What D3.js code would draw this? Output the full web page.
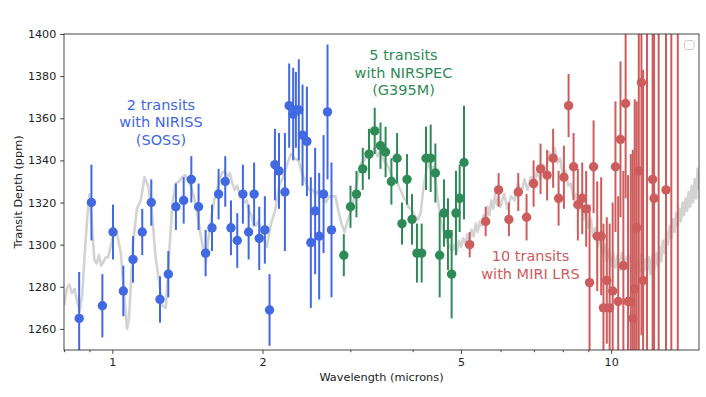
<!DOCTYPE html>
<html>
<head>
<meta charset="utf-8">
<script src="https://cdn.jsdelivr.net/npm/d3@7"></script>
<style>
  body { margin: 0; background: #fff; }
  svg { display: block; }
  text { font-family: "DejaVu Sans", sans-serif; }
</style>
</head>
<body>
<div id="chart"></div>
<script>
// model spectrum (grey)
const modelWave = [
  0.80, 0.81, 0.82, 0.83, 0.84, 0.85, 0.86, 0.87, 0.88, 0.89, 0.90, 0.91, 0.92, 0.93, 0.94, 0.95, 0.96, 0.97, 0.98, 0.99, 1.00,
  1.02, 1.04, 1.06, 1.07, 1.08, 1.10, 1.12, 1.14, 1.16, 1.18, 1.20, 1.22, 1.24, 1.26, 1.28, 1.30, 1.32, 1.34, 1.36, 1.38,
  1.40, 1.42, 1.44, 1.46, 1.48, 1.50, 1.52, 1.54, 1.56, 1.58, 1.60, 1.62, 1.64, 1.66, 1.68, 1.70, 1.72, 1.74, 1.76, 1.78,
  1.80, 1.82, 1.84, 1.86, 1.88, 1.90, 1.92, 1.94, 1.96, 1.98, 2.00,
  2.04, 2.08, 2.12, 2.16, 2.20, 2.24, 2.28, 2.32, 2.36, 2.40, 2.44, 2.48, 2.52, 2.56, 2.60, 2.64, 2.68, 2.72, 2.76, 2.80,
  2.84, 2.88, 2.92, 2.96, 3.00, 3.04, 3.08, 3.12, 3.16, 3.20, 3.24, 3.28, 3.32, 3.36, 3.40, 3.44, 3.48, 3.52, 3.56, 3.60,
  3.64, 3.68, 3.72, 3.76, 3.80, 3.84, 3.88, 3.92, 3.96, 4.00,
  4.05, 4.10, 4.15, 4.20, 4.25, 4.30, 4.35, 4.40, 4.45, 4.50, 4.55, 4.60, 4.65, 4.70, 4.75, 4.80, 4.85, 4.90, 4.95, 5.00,
  5.05, 5.10, 5.15, 5.20, 5.25, 5.30, 5.35, 5.40, 5.45, 5.50, 5.55, 5.60, 5.65, 5.70, 5.75, 5.80, 5.85, 5.90, 5.95, 6.00,
  6.1, 6.2, 6.3, 6.4, 6.5, 6.6, 6.7, 6.8, 6.9, 7.0, 7.1, 7.2, 7.3, 7.4, 7.5, 7.6, 7.7, 7.8, 7.9, 8.0,
  8.1, 8.2, 8.3, 8.4, 8.5, 8.6, 8.7, 8.8, 8.9, 9.0, 9.1, 9.2, 9.3, 9.4, 9.5, 9.6, 9.7, 9.8, 9.9, 10.0,
  10.1, 10.2, 10.3, 10.4, 10.5, 10.6, 10.7, 10.8, 10.9, 11.0, 11.1, 11.2, 11.3, 11.4, 11.5, 11.6, 11.7, 11.8, 11.9, 12.0,
  12.1, 12.2, 12.3, 12.4, 12.5, 12.6, 12.7, 12.8, 12.9, 13.0, 13.1, 13.2, 13.3, 13.4, 13.5, 13.6, 13.7, 13.8, 13.9, 14.0,
  14.1, 14.2, 14.3, 14.4, 14.5, 14.6, 14.7, 14.8, 14.9, 15.0
];
const modelDepth = [
  1271, 1279, 1281, 1277, 1279, 1273, 1269, 1276, 1295, 1312, 1324, 1310, 1293, 1291, 1295, 1290, 1292, 1294, 1294, 1298, 1303,
  1306, 1296, 1272, 1260, 1265, 1300, 1317, 1321, 1332, 1328, 1316, 1295, 1283, 1271, 1270, 1296, 1320, 1329, 1330, 1332,
  1333, 1330, 1327, 1322, 1315, 1306, 1298, 1292, 1304, 1313, 1321, 1326, 1331, 1334, 1335, 1332, 1334, 1329, 1326, 1328,
  1324, 1324, 1320, 1321, 1316, 1314, 1309, 1309, 1311, 1308, 1304,
  1299, 1310, 1316, 1328, 1332, 1338, 1343, 1341, 1340, 1334, 1330, 1326, 1326, 1324, 1326, 1323, 1320, 1323, 1323, 1323,
  1316, 1310, 1306, 1311, 1315, 1320, 1328, 1335, 1339, 1340, 1344, 1341, 1344, 1346, 1342, 1344, 1342, 1339, 1338, 1335,
  1332, 1330, 1330, 1327, 1325, 1322, 1321, 1318, 1317, 1316,
  1313, 1312, 1315, 1326, 1334, 1339, 1336, 1337, 1330, 1320, 1313, 1307, 1304, 1301, 1299, 1297, 1300, 1296, 1302, 1299,
  1303, 1300, 1305, 1302, 1307, 1304, 1310, 1306, 1311, 1309, 1314, 1311, 1318, 1314, 1321, 1317, 1324, 1319, 1322, 1318,
  1324, 1317, 1323, 1321, 1329, 1324, 1331, 1326, 1332, 1328, 1335, 1331, 1338, 1335, 1344, 1341, 1346, 1339, 1341, 1333,
  1335, 1328, 1329, 1322, 1324, 1316, 1320, 1312, 1316, 1308, 1312, 1304, 1308, 1299, 1304, 1295, 1300, 1292, 1298, 1290,
  1296, 1289, 1295, 1288, 1296, 1289, 1294, 1287, 1295, 1288, 1294, 1286, 1293, 1287, 1295, 1286, 1293, 1287, 1294, 1286,
  1295, 1288, 1296, 1290, 1299, 1292, 1302, 1296, 1306, 1300, 1309, 1303, 1312, 1306, 1315, 1309, 1317, 1311, 1320, 1314,
  1322, 1316, 1325, 1318, 1328, 1320, 1331, 1322, 1336, 1326
];

// NIRISS SOSS
const nirissWave = [0.858, 0.908, 0.955, 1.003, 1.052, 1.100, 1.148, 1.197, 1.246, 1.295, 1.341, 1.390, 1.440, 1.489,
  1.538, 1.584, 1.633, 1.684, 1.729, 1.780, 1.827, 1.876, 1.924, 1.970, 2.022, 2.066, 2.118, 2.158, 2.218, 2.262,
  2.304, 2.333, 2.365, 2.406, 2.455, 2.500, 2.550, 2.598, 2.651, 2.700, 2.750];
const nirissDepth = [1265, 1320, 1271, 1306, 1278, 1293, 1306, 1320, 1274, 1286, 1318, 1321, 1331, 1318,
  1296, 1308, 1324, 1330, 1308, 1302, 1324, 1306, 1324, 1303, 1307, 1269, 1338, 1335, 1325, 1366,
  1362, 1364, 1364, 1352, 1349, 1301, 1316, 1304, 1324, 1363, 1307];
const nirissErr = [22, 18, 15, 13, 12, 11, 11, 11, 11, 11, 11, 11, 11, 11,
  11, 11, 12, 12, 13, 13, 14, 13, 15, 15, 16, 17, 17, 18, 28, 20,
  22, 18, 24, 24, 26, 31, 30, 30, 28, 32, 32];

// NIRSpec G395M
const nirspecWave = [2.911, 3.002, 3.086, 3.177, 3.270, 3.357, 3.448, 3.530, 3.626, 3.722, 3.808, 3.897, 3.988,
  4.080, 4.170, 4.254, 4.347, 4.442, 4.531, 4.622, 4.708, 4.788, 4.885, 4.969, 5.070];
const nirspecDepth = [1295, 1318, 1324, 1336, 1343, 1354, 1347, 1344, 1330, 1341, 1310, 1331, 1312,
  1296, 1296, 1341, 1341, 1334, 1295, 1315, 1305, 1286, 1315, 1322, 1339];
const nirspecErr = [10, 10, 11, 10, 12, 11, 11, 12, 11, 12, 10, 12, 12,
  14, 14, 15, 16, 14, 20, 16, 17, 21, 20, 16, 27];

// MIRI LRS
const miriWave = [5.204, 5.603, 5.948, 6.237, 6.513, 6.767, 6.990, 7.218, 7.440, 7.650, 7.845, 8.040, 8.216, 8.407,
  8.575, 8.750, 8.910, 9.050, 9.220, 9.376, 9.550, 9.650, 9.800, 9.930, 10.07, 10.20, 10.33, 10.44, 10.58, 10.69,
  10.81, 10.95, 11.05, 11.15, 11.25, 11.36, 11.50, 11.59, 11.80, 12.11, 12.19, 12.45, 12.88, 13.20, 13.60];
const miriDepth = [1300, 1311, 1326, 1312, 1325, 1313, 1329, 1336, 1333, 1341, 1322, 1332, 1366, 1337,
  1319, 1322, 1317, 1282, 1337, 1304, 1304, 1270, 1283, 1270, 1278, 1337, 1273, 1350, 1290, 1367,
  1273, 1273, 1265, 1279, 1308, 1335, 1377, 1283, 1430, 1331, 1322, 1220, 1326, 1450, 1200];
const miriErr = [6, 7, 8, 8, 9, 11, 11, 12, 12, 14, 13, 15, 15, 16,
  17, 17, 18, 37, 22, 26, 28, 40, 30, 40, 42, 31, 50, 37, 45, 45,
  60, 70, 80, 90, 60, 110, 120, 100, 190, 150, 120, 190, 200, 260, 260];

const xTicks = [1, 2, 5, 10];
const xMinorTicks = [0.8, 0.9, 3, 4, 6, 7, 8, 9];
const yTicks = [1260, 1280, 1300, 1320, 1340, 1360, 1380, 1400];

(function transit_spectrum() {

  const width = 706, height = 397;
  const left = 64, right = 699, top = 34, bottom = 350;

  const x = d3.scaleLog().domain([0.8, 15]).range([left, right]);
  const y = d3.scaleLinear().domain([1250, 1400]).range([bottom, top]);

  const svg = d3.select("#chart")
    .append("svg")
    .attr("width", width)
    .attr("height", height)
    .style("background", "#fff");

  svg.append("clipPath")
    .attr("id", "plot-clip")
    .append("rect")
    .attr("x", left).attr("y", top)
    .attr("width", right - left).attr("height", bottom - top);

  const plot = svg.append("g").attr("clip-path", "url(#plot-clip)");

  // model
  const line = d3.line()
    .x(i => x(modelWave[i]))
    .y(i => y(modelDepth[i]));

  plot.append("path")
    .datum(d3.range(modelWave.length))
    .attr("d", line)
    .attr("fill", "none")
    .attr("stroke", "#d3d3d3")
    .attr("stroke-width", 2.6)
    .attr("stroke-linejoin", "round");

  function drawSeries(wave, depth, err, color) {
    const g = plot.append("g");
    const idx = d3.range(wave.length);
    g.selectAll("line")
      .data(idx)
      .join("line")
      .attr("x1", i => x(wave[i]))
      .attr("x2", i => x(wave[i]))
      .attr("y1", i => y(depth[i] - err[i]))
      .attr("y2", i => y(depth[i] + err[i]))
      .attr("stroke", color)
      .attr("stroke-width", 2);
    g.selectAll("circle")
      .data(idx)
      .join("circle")
      .attr("cx", i => x(wave[i]))
      .attr("cy", i => y(depth[i]))
      .attr("r", 4.7)
      .attr("fill", color);
  }

  drawSeries(nirissWave, nirissDepth, nirissErr, "#4169e1");
  drawSeries(nirspecWave, nirspecDepth, nirspecErr, "#2e8b57");
  drawSeries(miriWave, miriDepth, miriErr, "#cd5c5c");

  // axes
  svg.append("g")
    .attr("transform", `translate(0,${bottom})`)
    .call(d3.axisBottom(x).tickValues(xTicks).tickFormat(d3.format("d"))
      .tickSize(3.9).tickPadding(3.9).tickSizeOuter(0));
  svg.append("g")
    .attr("transform", `translate(0,${bottom})`)
    .call(d3.axisBottom(x).tickValues(xMinorTicks).tickFormat("")
      .tickSize(2.2).tickSizeOuter(0));

  svg.append("g")
    .attr("transform", `translate(${left},0)`)
    .call(d3.axisLeft(y).tickValues(yTicks).tickFormat(d3.format("d"))
      .tickSize(3.9).tickPadding(3.9).tickSizeOuter(0));

  svg.selectAll(".domain").remove();
  svg.selectAll(".tick line").attr("stroke", "#333").attr("stroke-width", 0.9);
  svg.selectAll(".tick text")
    .attr("font-family", "DejaVu Sans")
    .attr("font-size", "11.1px")
    .attr("fill", "#222");

  // frame
  svg.append("rect")
    .attr("x", left).attr("y", top)
    .attr("width", right - left).attr("height", bottom - top)
    .attr("fill", "none")
    .attr("stroke", "#333")
    .attr("stroke-width", 0.9);

  svg.append("text")
    .attr("x", (left + right) / 2)
    .attr("y", 381)
    .attr("text-anchor", "middle")
    .attr("font-size", "11.3px")
    .attr("fill", "#222")
    .text("Wavelength (microns)");

  svg.append("text")
    .attr("transform", `translate(22,${(top + bottom) / 2}) rotate(-90)`)
    .attr("text-anchor", "middle")
    .attr("font-size", "11.3px")
    .attr("fill", "#222")
    .text("Transit Depth (ppm)");

  // instrument labels
  const labels = [
    { x: 161, y: 109.5, color: "#4169e1", lines: ["2 transits", "with NIRISS", "(SOSS)"] },
    { x: 403.5, y: 60, color: "#2e8b57", lines: ["5 transits", "with NIRSPEC", "(G395M)"] },
    { x: 530.5, y: 261, color: "#cd5c5c", lines: ["10 transits", "with MIRI LRS"] }
  ];
  labels.forEach(l => {
    svg.append("text")
      .attr("text-anchor", "middle")
      .attr("font-family", "'Liberation Sans', Arial, sans-serif")
      .attr("font-size", "14.5px")
      .attr("fill", l.color)
      .selectAll("tspan")
      .data(l.lines)
      .join("tspan")
      .attr("x", l.x)
      .attr("y", (d, i) => l.y + i * 17.6)
      .text(d => d);
  });

  // empty legend box
  svg.append("rect")
    .attr("x", 684.5).attr("y", 40.5)
    .attr("width", 9.5).attr("height", 9)
    .attr("rx", 2)
    .attr("fill", "#fff")
    .attr("stroke", "#cccccc")
    .attr("stroke-width", 1);

})();
</script>
</body>
</html>
